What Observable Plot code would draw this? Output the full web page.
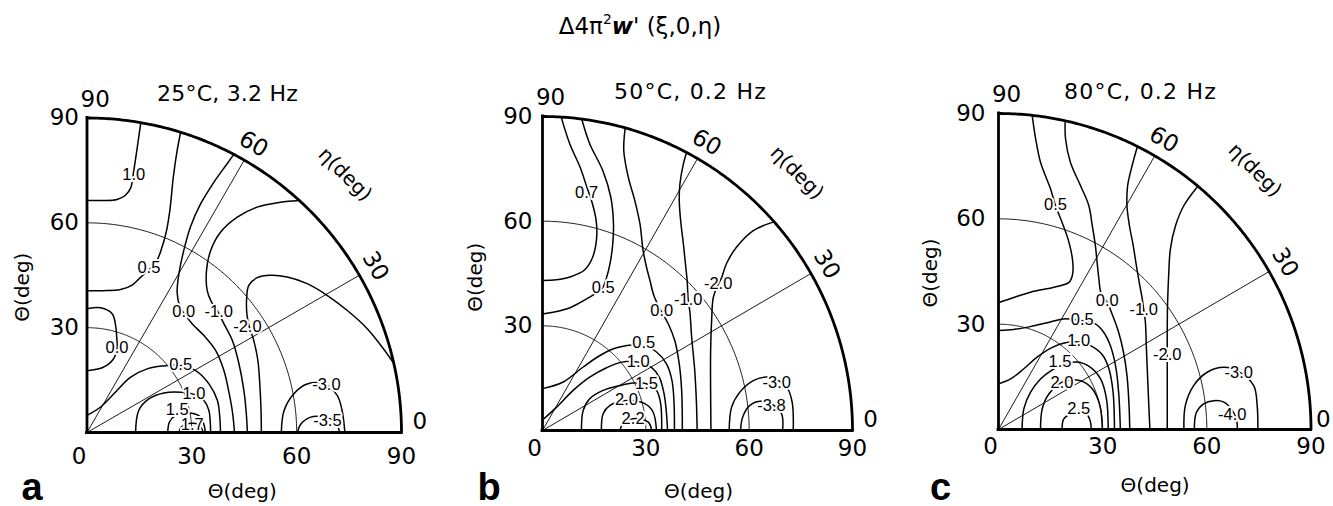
<!DOCTYPE html>
<html>
<head>
<meta charset="utf-8">
<script src="https://cdn.jsdelivr.net/npm/d3@7"></script>
<script src="https://cdn.jsdelivr.net/npm/@observablehq/plot@0.6"></script>
<style>
  html, body { margin: 0; padding: 0; background: #fff; overflow: hidden; }
  #fig { position: relative; width: 1333px; height: 506px; font-family: "DejaVu Sans", sans-serif; color: #000; }
  #fig svg { position: absolute; top: 0; }
  .txt { position: absolute; white-space: nowrap; line-height: 1; transform: translateX(-50%); }
  .title sup { font-size: 0.6em; line-height: 0; vertical-align: 0.75em; }
  .letter { font-family: "Liberation Sans", Arial, sans-serif; font-weight: bold; font-size: 38px; }
  g[aria-label="contour-label"] text { letter-spacing: -0.5px; }
</style>
</head>
<body>
<div id="fig"></div>
<script>
// Polar maps: radius Θ (deg) along the plane, azimuth η (deg); positions are Θx = Θ·cos η, Θy = Θ·sin η.
const xTicks = [0, 30, 60, 90];
const yTicks = [30, 60, 90];
const etaTicks = [0, 30, 60, 90];
const gridRadii = [30, 60];
const gridAngles = [30, 60];

const panelTitles = ["25°C, 3.2 Hz", "50°C, 0.2 Hz", "80°C, 0.2 Hz"];
const panelLetters = ["a", "b", "c"];

// Panel a: 25 °C, 3.2 Hz
const levelsA = [1.0, 0.5, 0.0, -1.0, -2.0, 0.0, 0.5, 1.0, 1.5, 1.7, -3.0, -3.5];
const pathsA = [
  [[15.4,88.7],[14.4,81.7],[13.4,75.0],[12.5,70.0],[11.0,67.9],[8.6,66.7],[4.5,66.4],[0,66.4]],
  [[26.8,86.0],[25.8,80.7],[24.7,73.1],[23.7,63.5],[22.7,57.5],[21.3,52.5],[19.8,48.8],[17.7,46.5],[15.3,44.4],[12.9,42.2],[9.6,40.9],[4.5,40.6],[0,40.6]],
  [[42.0,79.6],[40.1,76.9],[36.3,71.6],[32.5,65.4],[29.6,58.8],[27.7,52.1],[26.3,45.4],[25.8,40.0],[26.6,36.0],[28.2,33.5],[30.2,31.0],[33.4,27.8],[36.8,23.5],[39.2,17.7],[40.7,11.1],[41.7,5.3],[42.2,0]],
  [[60.6,66.4],[55.4,65.9],[48.7,64.5],[43.0,61.6],[38.2,57.3],[35.4,52.1],[34.2,46.4],[34.4,40.6],[35.5,37.6],[37.5,34.5],[39.2,31.1],[41.6,26.3],[43.5,19.6],[44.9,12.0],[45.6,5.3],[45.9,0]],
  [[87.8,19.8],[84.5,24.4],[80.2,29.7],[74.5,34.9],[68.8,39.2],[63.0,42.6],[57.3,44.5],[52.5,45.0],[48.7,44.3],[46.3,42.1],[45.7,38.7],[45.8,33.5],[46.5,30.0],[47.6,26.8],[48.9,20.6],[49.5,13.0],[49.8,6.3],[49.9,0]],
  [[0,35.4],[3.9,35.7],[7.2,34.0],[8.2,30.6],[8.5,27.3],[8.6,24.0],[7.4,20.8],[4.5,18.6],[0,17.7]],
  [[0,4.9],[3.9,7.3],[7.7,11.1],[12.4,15.8],[17.2,18.2],[21.5,19.0],[26.8,19.2],[31.1,17.7],[34.9,13.9],[37.3,9.2],[38.0,4.4],[38.2,0]],
  [[13.9,0],[14.8,6.3],[17.7,9.6],[22.0,11.3],[26.8,11.5],[30.6,10.9],[33.4,9.2],[34.9,6.3],[35.4,0]],
  [[23.1,0],[23.6,3.0],[25.5,5.0],[28.8,5.6],[32.0,4.8],[33.4,2.5],[33.9,0]],
  [[26.3,0],[27.0,1.6],[29.2,2.6],[31.8,2.3],[32.9,1.0],[33.2,0]],
  [[55.6,0],[56.4,6.3],[59.2,11.1],[63.0,13.9],[68.3,13.7],[71.6,10.6],[73.0,6.3],[73.8,0]],
  [[60.2,0],[61.1,2.3],[64.0,4.4],[67.8,4.4],[71.0,3.2],[72.3,0]]
];
const labelsA = [[13.4,73.6],[17.7,46.8],[27.7,34.4],[37.7,34.4],[45.9,30.1],[8.6,24.0],[26.8,19.2],[30.6,10.9],[25.8,6.3],[30.1,1.8],[68.5,13.5],[68.8,3.0]];

// Panel b: 50 °C, 0.2 Hz
const levelsB = [0.7, 0.5, 0.0, -1.0, -2.0, 0.5, 1.0, 1.5, 2.0, 2.2, -3.0, -3.8];
const pathsB = [
  [[5.5,89.6],[7.9,82.2],[10.9,75.5],[12.8,70.0],[14.5,65.0],[15.6,60.0],[15.7,55.0],[14.5,49.5],[12.2,46.0],[8.0,44.0],[4.0,43.2],[0,43.0]],
  [[11.4,89.2],[13.7,82.2],[17.5,74.5],[19.8,67.0],[20.6,59.5],[20.4,53.5],[19.6,47.8],[18.5,43.5],[17.3,40.6],[15.0,39.0],[12.8,37.7],[8.0,35.2],[3.1,33.9],[0,33.4]],
  [[24.0,86.7],[23.6,80.2],[24.9,72.6],[26.8,65.9],[28.3,59.2],[29.2,51.6],[30.2,46.8],[31.2,43.0],[32.4,38.5],[34.6,34.0],[36.5,30.6],[38.4,25.8],[39.7,19.1],[40.4,11.5],[40.6,0]],
  [[41.8,79.6],[40.9,76.4],[39.9,70.7],[39.7,65.9],[40.1,60.2],[40.9,53.5],[41.6,46.8],[42.0,43.0],[42.3,37.3],[42.8,33.9],[43.3,26.8],[44.2,17.2],[44.7,7.7],[44.9,0]],
  [[67.2,59.8],[61.2,57.3],[56.3,52.5],[53.4,47.8],[52.0,43.8],[51.0,41.8],[49.6,38.2],[49.1,31.5],[48.8,22.0],[48.8,12.4],[48.9,0]],
  [[0,12.0],[6.0,13.9],[11.8,18.2],[16.7,21.5],[21.5,23.7],[29.2,24.4],[33.1,22.5],[36.0,19.1],[37.6,14.3],[38.2,7.7],[38.3,0]],
  [[0,3.0],[4.1,6.7],[8.9,11.5],[13.7,15.3],[18.6,18.0],[23.0,19.6],[27.8,19.6],[31.7,18.0],[33.9,15.3],[35.3,10.5],[36.0,4.8],[36.3,0]],
  [[11.3,0],[11.8,5.7],[13.7,9.1],[17.6,11.5],[22.5,12.9],[26.3,13.6],[30.2,13.4],[33.1,11.5],[34.3,7.7],[34.6,0]],
  [[17.1,0],[17.6,4.8],[19.6,7.2],[24.4,8.6],[29.7,7.7],[32.1,5.3],[33.1,0]],
  [[22.5,0],[23.6,2.4],[26.3,3.4],[30.7,2.4],[31.7,0]],
  [[54.2,0],[54.9,6.7],[57.3,11.0],[61.2,14.3],[65.0,15.3],[68.0,14.6],[71.0,12.3],[72.5,8.0],[72.8,0]],
  [[57.5,0],[58.1,3.8],[60.2,7.2],[63.1,8.4],[66.5,7.6],[69.4,4.8],[69.7,0]]
];
const labelsB = [[12.8,67.8],[17.6,40.6],[34.6,33.9],[42.3,37.3],[51.0,41.8],[29.4,24.9],[27.8,19.3],[30.2,13.2],[24.4,8.4],[26.3,3.2],[68.0,13.4],[66.5,6.7]];

// Panel c: 80 °C, 0.2 Hz
const levelsC = [0.5, 0.0, -1.0, -2.0, 0.5, 1.0, 1.5, 2.0, 2.5, -3.0, -4.0];
const pathsC = [
  [[9.7,89.4],[10.7,82.8],[12.1,76.1],[15.0,68.5],[16.4,63.8],[18.3,59.0],[20.3,53.3],[21.4,47.6],[21.3,44.0],[20.3,41.9],[16.3,40.6],[9.2,39.1],[4.4,37.6],[0,36.1]],
  [[19.2,87.8],[19.3,82.8],[20.7,76.1],[23.6,69.5],[26.0,63.8],[27.0,58.1],[27.9,52.4],[28.4,47.6],[28.9,43.0],[29.6,38.6],[31.3,36.3],[32.7,32.9],[34.6,27.7],[36.0,22.0],[37.0,15.4],[37.6,6.8],[37.8,0]],
  [[40.0,80.6],[38.5,75.2],[37.2,69.5],[37.0,63.8],[37.7,58.1],[38.8,52.4],[39.7,46.7],[40.7,41.0],[41.4,37.2],[41.85,33.9],[42.3,30.6],[42.6,23.0],[43.0,13.5],[43.6,0]],
  [[57.4,69.3],[53.4,63.8],[51.0,58.1],[49.5,51.4],[49.0,43.8],[48.7,36.0],[48.6,29.1],[48.6,21.1],[48.6,10.0],[48.6,0]],
  [[0,28.2],[4.4,28.5],[9.2,29.3],[14.0,30.4],[18.8,31.5],[24.1,31.0],[27.9,30.1],[30.3,27.7],[32.2,23.9],[33.7,18.2],[34.6,10.6],[35.1,0]],
  [[0,13.0],[3.5,14.4],[7.3,17.3],[11.1,20.6],[15.5,23.4],[19.3,24.7],[23.1,24.9],[26.5,23.9],[29.9,21.3],[31.8,17.3],[33.0,10.6],[33.4,0]],
  [[6.8,0],[7.3,5.9],[9.2,10.6],[12.1,14.4],[15.5,17.0],[17.9,18.2],[22.6,19.2],[26.5,17.7],[29.4,14.4],[31.1,8.7],[31.6,0]],
  [[12.1,0],[12.6,5.9],[14.5,10.1],[18.3,13.5],[23.6,13.9],[27.0,11.6],[29.2,6.8],[29.9,0]],
  [[18.3,0],[18.8,3.0],[20.7,4.4],[23.1,5.0],[25.4,4.4],[26.5,2.1],[26.7,0]],
  [[53.4,0],[53.8,6.8],[56.2,12.5],[60.1,16.3],[64.9,17.7],[69.2,16.5],[73.5,12.5],[74.5,6.8],[74.7,0]],
  [[56.4,0],[57.0,4.9],[59.1,7.3],[62.0,8.2],[64.9,7.8],[67.3,5.5],[68.6,2.5],[68.8,0]]
];
const labelsC = [[16.4,63.8],[31.3,36.3],[41.85,33.9],[48.6,21.1],[24.1,31.0],[23.1,24.9],[17.7,18.9],[18.3,13.1],[23.1,5.6],[69.2,15.8],[67.3,4.0]];

// ---- helpers ----
const rad = d => d * Math.PI / 180;
const fmt = v => v.toFixed(1);
const arcPts = r => d3.range(0, 90.001, 0.5).map(a => ({r, x: r * Math.cos(rad(a)), y: r * Math.sin(rad(a))}));
const rowsOf = (levels, paths) => paths.flatMap((p, i) => p.map(([x, y]) => ({id: i, level: levels[i], x, y})));
const labelRows = (levels, spots) => spots.map(([x, y], i) => ({x, y, level: levels[i]}));

// layout of each panel (frame placement and label offsets, in pixels)
const layouts = [
  {left: 0,   width: 444, mL: 86.5, mR: 43,   mT: 117.5, mB: 74, xPad: 15, yPad: 8,  xLabX: 44.4, xLabDy: 59, yLabY: 41.6, yLabDx: -64.8, rimR: 95.3},
  {left: 444, width: 444, mL: 98,   mR: 36,   mT: 116,   mB: 76, xPad: 9,  yPad: 10, xLabX: 45.3, xLabDy: 61, yLabY: 43.9, yLabDx: -67,   rimR: 95.3},
  {left: 888, width: 445, mL: 110,  mR: 22.5, mT: 113,   mB: 77, xPad: 8,  yPad: 13, xLabX: 45.1, xLabDy: 56, yLabY: 44.6, yLabDx: -68.3, rimR: 93.6}
];
const panelData = [
  {levels: levelsA, paths: pathsA, labels: labelsA},
  {levels: levelsB, paths: pathsB, labels: labelsB},
  {levels: levelsC, paths: pathsC, labels: labelsC}
];

const grid = gridRadii.flatMap(r => arcPts(r));
const spokes = gridAngles.flatMap(a => [{a, x: 0, y: 0}, {a, x: 90 * Math.cos(rad(a)), y: 90 * Math.sin(rad(a))}]);
const rim = arcPts(90);
const etaAngle = d => Math.min(88.6, Math.max(1.8, d));
const etaRotate = d => (d === 0 ? 0 : 90 - d);

function panel(L, D) {
  const rimR = d => (d === 0 ? L.rimR : 95.3);
  return Plot.plot({
    width: L.width,
    height: 506,
    marginLeft: L.mL, marginRight: L.mR, marginTop: L.mT, marginBottom: L.mB,
    x: {domain: [0, 90]},
    y: {domain: [0, 90]},
    style: {background: "transparent", fontFamily: "'DejaVu Sans', sans-serif", fontSize: "23px", color: "black", overflow: "visible"},
    marks: [
      // thin reference circles and spokes
      Plot.line(grid, {x: "x", y: "y", z: "r", stroke: "black", strokeWidth: 0.9}),
      Plot.line(spokes, {x: "x", y: "y", z: "a", stroke: "black", strokeWidth: 0.9}),
      // contour lines
      Plot.line(rowsOf(D.levels, D.paths), {x: "x", y: "y", z: "id", curve: "catmull-rom", stroke: "black", strokeWidth: 1.5}),
      // contour values
      Plot.text(labelRows(D.levels, D.labels), {
        x: "x", y: "y", text: d => fmt(d.level),
        fontFamily: "'Liberation Sans', Arial, sans-serif", fontSize: 16.5, lineHeight: 0.8,
        fill: "black", stroke: "white", strokeWidth: 4, ariaLabel: "contour-label"
      }),
      // heavy outline of the quadrant
      Plot.line(rim, {x: "x", y: "y", stroke: "black", strokeWidth: 2.8}),
      Plot.ruleY([0], {x1: 0, x2: 90, stroke: "black", strokeWidth: 2.8, strokeLinecap: "square"}),
      Plot.ruleX([0], {y1: 0, y2: 90, stroke: "black", strokeWidth: 2.8, strokeLinecap: "square"}),
      // Θ axes
      Plot.axisX(xTicks.slice(0, 1), {tickSize: 0, tickPadding: L.xPad, dx: -8, label: null, fontSize: 23}),
      Plot.axisX(xTicks.slice(1), {tickSize: 0, tickPadding: L.xPad, label: null, fontSize: 23}),
      Plot.axisY(yTicks, {tickSize: 0, tickPadding: L.yPad, label: null, fontSize: 23}),
      // η ticks along the rim
      Plot.text(etaTicks, {
        x: d => rimR(d) * Math.cos(rad(etaAngle(d))),
        y: d => rimR(d) * Math.sin(rad(etaAngle(d))),
        rotate: etaRotate, text: d => String(d), fontSize: 23
      }),
      Plot.text(["η(deg)"], {x: () => 104.5 * Math.cos(rad(45)), y: () => 104.5 * Math.sin(rad(45)), rotate: 45, fontSize: 20}),
      // axis titles
      Plot.text(["Θ(deg)"], {x: () => L.xLabX, y: () => 0, dy: L.xLabDy, fontSize: 20}),
      Plot.text(["Θ(deg)"], {x: () => 0, y: () => L.yLabY, dx: L.yLabDx, rotate: -90, fontSize: 20})
    ]
  });
}

const fig = document.getElementById("fig");
layouts.forEach((L, i) => {
  const svg = panel(L, panelData[i]);
  svg.style.left = L.left + "px";
  fig.appendChild(svg);
});

// headings
const titlePos = [{x: 227.5, top: 83, ls: 0.2}, {x: 690.5, top: 81, ls: 1.2}, {x: 1140.5, top: 81, ls: 1.2}];
const letterPos = [32, 489, 940.5];

const main = document.createElement("div");
main.className = "txt title";
main.style.cssText = "left:640px;top:15px;font-size:23px;";
main.innerHTML = "Δ4π<sup>2</sup><b><i>w</i></b>' (ξ,0,η)";
fig.appendChild(main);

panelTitles.forEach((t, i) => {
  const el = document.createElement("div");
  el.className = "txt";
  el.style.cssText = `left:${titlePos[i].x}px;top:${titlePos[i].top}px;font-size:22px;letter-spacing:${titlePos[i].ls}px;`;
  el.textContent = t;
  fig.appendChild(el);
});

panelLetters.forEach((t, i) => {
  const el = document.createElement("div");
  el.className = "txt letter";
  el.style.cssText = `left:${letterPos[i]}px;top:468px;`;
  el.textContent = t;
  fig.appendChild(el);
});
</script>
</body>
</html>
